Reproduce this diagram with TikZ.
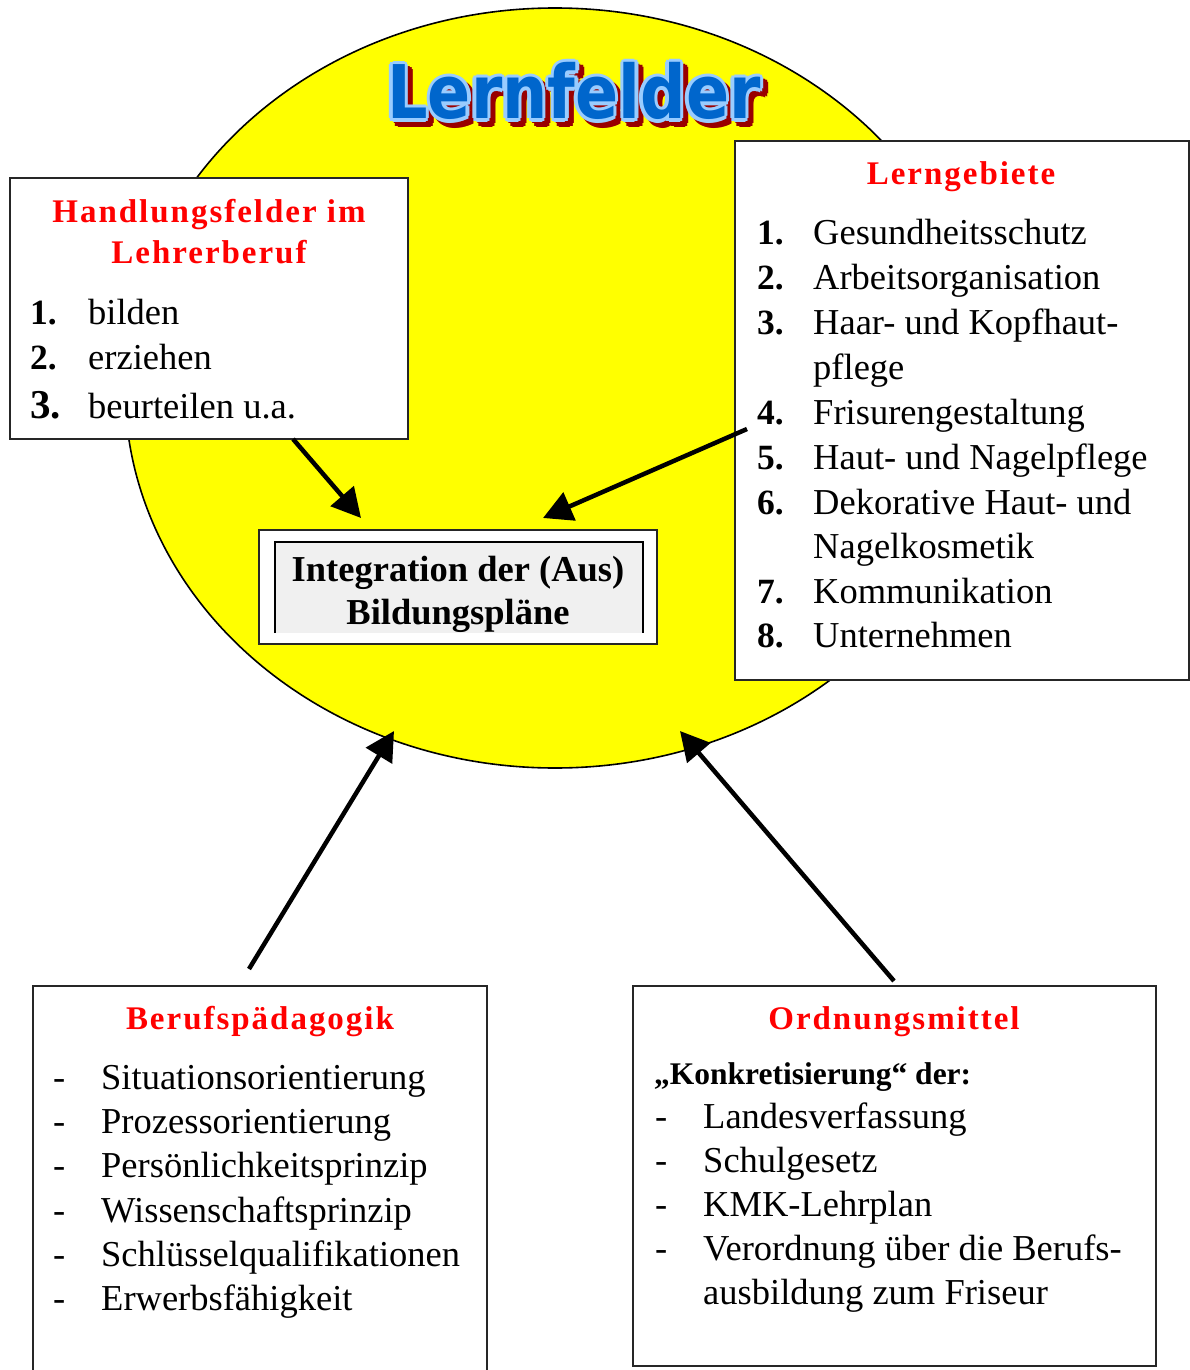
\documentclass[tikz,border=0pt]{standalone}
\usepackage{graphicx}
\usepackage{fontspec}
\setmainfont{Liberation Serif}
\newfontfamily\titlefont{DejaVu Sans}
\newfontfamily\headfont{Liberation Serif}[LetterSpace=6]
\usetikzlibrary{arrows.meta}
\definecolor{lfyellow}{HTML}{FFFF00}
\definecolor{lfblue}{HTML}{0066CC}
\definecolor{lflight}{HTML}{99CCFF}
\definecolor{lfshadow}{HTML}{990000}
\definecolor{lfred}{HTML}{FF0000}
\definecolor{lfgray}{HTML}{F0F0F0}
\newcommand{\ttltext}{\scalebox{0.86}[1]{Lernfelder}}
\begin{document}
\begin{tikzpicture}[x=1pt,y=-1pt,
  box/.style={draw=black!85, line width=1.6pt, fill=white, anchor=north west, inner sep=0pt, outer sep=0pt},
  ttl/.style={anchor=base, inner sep=0pt, font=\titlefont\bfseries\fontsize{74}{76}\selectfont},
  txt/.style={anchor=base west, inner sep=0pt, font=\fontsize{36.5}{44}\selectfont},
  num/.style={anchor=base west, inner sep=0pt, font=\bfseries\fontsize{35.5}{40}\selectfont},
  head/.style={anchor=base, inner sep=0pt, text=lfred, font=\headfont\bfseries\fontsize{33}{40}\selectfont},
  ctr/.style={anchor=base, inner sep=0pt, font=\bfseries\fontsize{36.5}{44}\selectfont},
  arr/.style={line width=4.5pt, -{Triangle[length=29pt,width=30pt]}}
]
\useasboundingbox (0,0) rectangle (1190,1370);
\fill[white] (0,0) rectangle (1190,1370);
% yellow ellipse
\draw[fill=lfyellow, line width=1.6pt] (555,388) ellipse [x radius=430, y radius=380];
% title: shadow, light outline, blue letters
\foreach \i in {0,...,7} {
  \node[ttl, text=lfshadow] (tsh\i) at ({579+3.5*cos(45*\i)},{124+3.5*sin(45*\i)}) {\ttltext};
}
\foreach \i in {0,...,7} {
  \node[ttl, text=lflight] (tol\i) at ({574+3.5*cos(45*\i)},{119+3.5*sin(45*\i)}) {\ttltext};
}
\node[ttl, text=lfblue] (title) at (574,119) {\ttltext};

% boxes
\node[box, minimum width=398, minimum height=261] (hf) at (10,178) {};
\node[box, minimum width=454, minimum height=539] (lg) at (735,141) {};
\node[box, minimum width=454, minimum height=400] (bp) at (33,986) {};
\node[box, minimum width=523, minimum height=380] (om) at (633,986) {};
\node[box, minimum width=398, minimum height=114] (ib) at (259,530) {};
\fill[lfgray] (275,542) rectangle (643,633);
\draw[line width=2.4pt] (275,633) -- (275,542) -- (643,542) -- (643,633);
\node[ctr] (c1) at (458,581) {Integration der (Aus)};
\node[ctr] (c2) at (458,624) {Bildungspläne};

% Handlungsfelder
\node[head] (hfh1) at (209,222) {Handlungsfelder im};
\node[head] (hfh2) at (209,263) {Lehrerberuf};
\node[num] (hfn1) at (30,324) {1.};
\node[num] (hfn2) at (30,369) {2.};
\node[num, font=\bfseries\fontsize{41}{44}\selectfont] (hfn3) at (30,418) {3.};
\node[txt] (hft1) at (88,324) {bilden};
\node[txt] (hft2) at (88,369) {erziehen};
\node[txt] (hft3) at (88,418) {beurteilen u.a.};

% Lerngebiete
\node[head] (lgh) at (961,184) {Lerngebiete};
\foreach \n/\y/\t in {1/244/Gesundheitsschutz, 2/289/Arbeitsorganisation, 3/334/Haar- und Kopfhaut-, 4/424/Frisurengestaltung, 5/469/Haut- und Nagelpflege, 6/514/Dekorative Haut- und, 7/603/Kommunikation, 8/647/Unternehmen} {
  \node[num] (lgn\n) at (757,\y) {\n.};
  \node[txt] (lgt\n) at (813,\y) {\t};
}
\node[txt] (lgt3b) at (813,379) {pflege};
\node[txt] (lgt6b) at (813,558) {Nagelkosmetik};

% Berufspaedagogik
\node[head] (bph) at (260,1029) {Berufspädagogik};
\foreach \n/\y/\t in {1/1089/Situationsorientierung, 2/1133/Prozessorientierung, 3/1177/Persönlichkeitsprinzip, 4/1222/Wissenschaftsprinzip, 5/1266/Schlüsselqualifikationen, 6/1310/Erwerbsfähigkeit} {
  \node[txt] (bpd\n) at (53,\y) {-};
  \node[txt] (bpt\n) at (101,\y) {\t};
}

% Ordnungsmittel
\node[head] (omh) at (894,1029) {Ordnungsmittel};
\node[anchor=base west, inner sep=0pt, font=\bfseries\fontsize{31.5}{40}\selectfont] (omk) at (654,1084) {„Konkretisierung“ der:};
\foreach \n/\y/\t in {1/1128/Landesverfassung, 2/1172/Schulgesetz, 3/1216/KMK-Lehrplan, 4/1260/Verordnung über die Berufs-} {
  \node[txt] (omd\n) at (655,\y) {-};
  \node[txt] (omt\n) at (703,\y) {\t};
}
\node[txt] (omt4b) at (703,1304) {ausbildung zum Friseur};

% arrows
\coordinate (a1s) at (293,439);
\coordinate (a1e) at (361,518);
\coordinate (a2s) at (747,429);
\coordinate (a2e) at (543,518);
\coordinate (a3s) at (249,969);
\coordinate (a3e) at (394,731);
\coordinate (a4s) at (894,981);
\coordinate (a4e) at (680,731);
\draw[arr] (a1s) -- (a1e);
\draw[arr] (a2s) -- (a2e);
\draw[arr] (a3s) -- (a3e);
\draw[arr] (a4s) -- (a4e);
\end{tikzpicture}
\end{document}
